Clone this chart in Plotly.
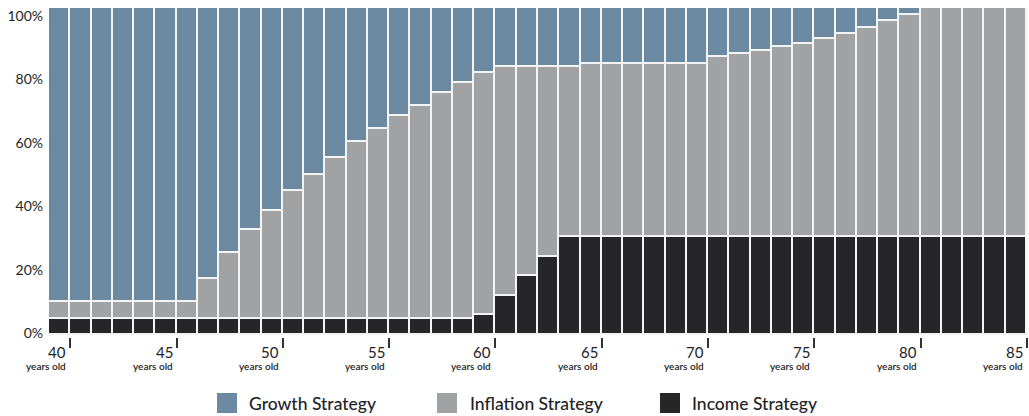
import plotly.graph_objects as go

# Allocation by age (percent of portfolio)
ages = list(range(40, 86))

income = [5] * 20 + [6, 12, 18, 24] + [30] * 22

inflation = ([5] * 7
             + [12, 20, 27, 33, 39, 44, 49, 54, 58, 62, 65, 69, 72, 74]
             + [70, 64, 58, 52]
             + [53] * 6
             + [55, 56, 57, 58, 59, 60.5, 62, 64, 66, 68]
             + [70] * 5)

growth = ([90] * 7
          + [83, 75, 68, 62, 56, 51, 46, 41, 37, 33, 30, 26, 23, 20]
          + [18] * 4
          + [17] * 6
          + [15, 14, 13, 12, 11, 9.5, 8, 6, 4, 2]
          + [0] * 5)

series_names = ["Growth Strategy", "Inflation Strategy", "Income Strategy"]
series_colors = ["#6b8aa1", "#a1a2a4", "#262527"]

age_ticks = list(range(40, 86, 5))
age_unit = "years old"
pct_ticks = [0, 20, 40, 60, 80, 100]
pct_tick_text = [f"{p}%" for p in pct_ticks]

FONT = "Lato"
TEXT = "#232325"

W, H = 1029, 416
M_L, M_R, M_T, M_B = 49, 2, 8, 79
PW, PH = W - M_L - M_R, H - M_T - M_B


def px_x(x):
    return (x - M_L) / PW


def px_y(y):
    return (H - M_B - y) / PH


# each age's bar spans the year leading up to its tick
bar_x = [a - 0.5 for a in ages]

fig = go.Figure()
for name, vals, color in [
    (series_names[2], income, series_colors[2]),
    (series_names[1], inflation, series_colors[1]),
    (series_names[0], growth, series_colors[0]),
]:
    fig.add_trace(go.Bar(
        x=bar_x, y=vals, name=name, width=1,
        marker=dict(color=color, line=dict(color="#f4f4f4", width=1.6)),
        showlegend=False,
    ))

# empty trace so the percentage label axis gets drawn
fig.add_trace(go.Scatter(x=[None], y=[None], yaxis="y2", mode="markers",
                         showlegend=False, hoverinfo="skip"))

fig.update_layout(
    width=W, height=H,
    margin=dict(l=M_L, r=M_R, t=M_T, b=M_B, pad=0),
    paper_bgcolor="white", plot_bgcolor="white",
    barmode="stack", bargap=0,
    font=dict(family=FONT, color=TEXT),
    xaxis=dict(
        range=[39, 85], tickvals=age_ticks, showticklabels=False,
        ticks="outside", ticklen=10, tickwidth=1.5, tickcolor="#333",
        showgrid=False, zeroline=False, showline=False,
    ),
    yaxis=dict(
        range=[-0.612, 100], showticklabels=False, ticks="",
        showgrid=False, zeroline=False, showline=False,
    ),
    yaxis2=dict(
        overlaying="y", anchor="x", side="left",
        range=[-1.262, 102.53], tickvals=pct_ticks, ticktext=pct_tick_text,
        ticks="", ticklabelstandoff=5,
        tickfont=dict(size=14, color=TEXT, family=FONT),
        showgrid=False, zeroline=False, showline=False,
    ),
)

annos, shapes = [], []

# age labels, right-aligned against each tick
for a in age_ticks:
    annos.append(dict(
        xref="x", yref="paper", x=a, y=px_y(352), xshift=-2,
        xanchor="right", yanchor="middle", showarrow=False,
        text=str(a), font=dict(size=15, color=TEXT, family=FONT),
    ))
    annos.append(dict(
        xref="x", yref="paper", x=a, y=px_y(366), xshift=-2,
        xanchor="right", yanchor="middle", showarrow=False,
        text=age_unit, font=dict(size=10, color=TEXT, family=FONT, weight=600),
    ))

# legend row under the axis
legend_sq = [217, 437, 660]
legend_txt = [247, 468, 690]
for name, color, sx, tx in zip(series_names, series_colors, legend_sq, legend_txt):
    shapes.append(dict(
        type="rect", xref="paper", yref="paper",
        x0=px_x(sx), x1=px_x(sx + 20), y0=px_y(413), y1=px_y(393),
        fillcolor=color, line=dict(width=0),
    ))
    annos.append(dict(
        xref="paper", yref="paper", x=px_x(tx), y=px_y(403),
        xanchor="left", yanchor="middle", showarrow=False,
        text=name, font=dict(size=17.5, color=TEXT, family=FONT, weight=500),
    ))
fig.update_layout(shapes=shapes, annotations=annos)

fig.write_html("out.html")
